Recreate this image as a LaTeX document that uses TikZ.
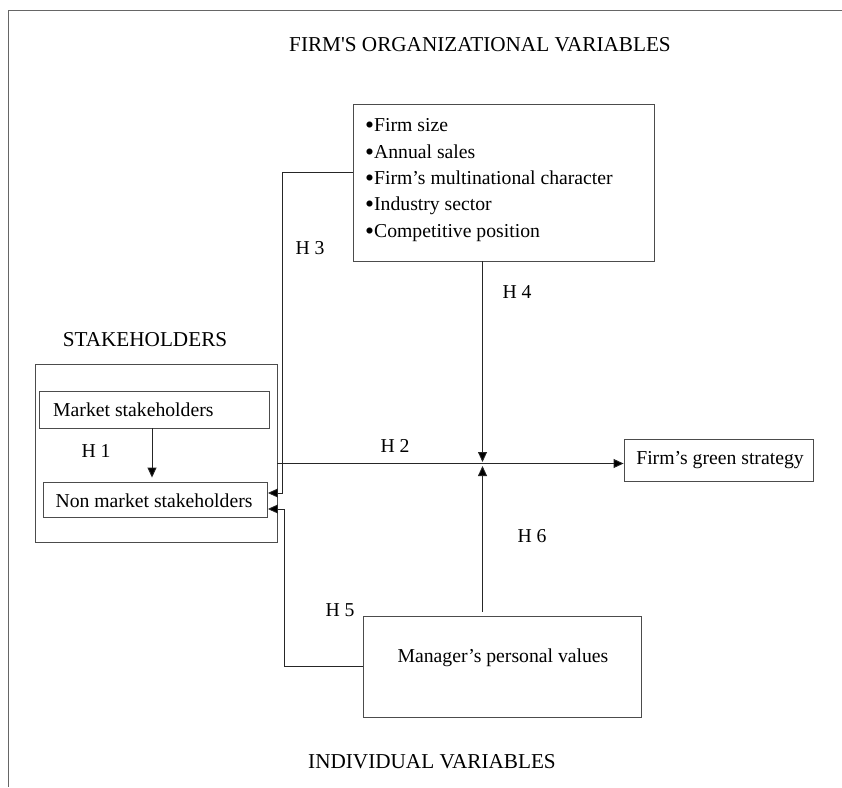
\documentclass[tikz,border=0pt]{standalone}
\usepackage{fontspec}
\setmainfont{Liberation Serif}
\usetikzlibrary{arrows.meta}
\newcommand{\bul}{\raisebox{-2pt}{\scalebox{1.3}{\textbullet}}}
\begin{document}
\begin{tikzpicture}[x=1pt,y=-1pt,
  box/.style={draw=black!70,line width=0.9pt,fill=white,inner sep=0pt},
  lbl/.style={font=\fontsize{19.7}{23}\selectfont,inner sep=0pt},
  hdr/.style={font=\fontsize{21.2}{25}\selectfont,inner sep=0pt},
  con/.style={draw=black!85,line width=0.9pt},
  arr/.style={con,-{Triangle[length=10pt,width=9pt,fill=black]}}]
\useasboundingbox (0,0) rectangle (842,787);
% frame
\draw[black!60,line width=1pt] (842,10) -- (8,10) -- (8,787);
% titles
\node[hdr] (t1) at (480,45) {FIRM\textquotesingle S ORGANIZATIONAL VARIABLES};
\node[hdr] (t2) at (145,340) {STAKEHOLDERS};
\node[hdr] (t3) at (432,762) {INDIVIDUAL VARIABLES};
% boxes
\node[box,minimum width=301pt,minimum height=157pt] (org) at (503.5,182.5) {};
\node[lbl,anchor=west] (o1) at (365,126) {\bul Firm size};
\node[lbl,anchor=west] (o2) at (365,153) {\bul Annual sales};
\node[lbl,anchor=west] (o3) at (365,179) {\bul Firm’s multinational character};
\node[lbl,anchor=west] (o4) at (365,206) {\bul Industry sector};
\node[lbl,anchor=west] (o5) at (365,233) {\bul Competitive position};
\node[box,minimum width=242pt,minimum height=178pt] (out) at (156,453) {};
\node[box,minimum width=230pt,minimum height=37pt] (mk) at (154,409.5) {};
\node[lbl,anchor=west] (mkt) at (53,410) {Market stakeholders};
\node[box,minimum width=224pt,minimum height=35pt] (nm) at (155.5,499.5) {};
\node[lbl] (nmt) at (154,501) {Non market stakeholders};
\node[box,minimum width=189pt,minimum height=42pt] (grn) at (718.5,460) {};
\node[lbl] (grnt) at (720,460) {Firm’s green strategy};
\node[box,minimum width=278pt,minimum height=101pt] (man) at (502,666.5) {};
\node[lbl] (mant) at (503,658) {Manager’s personal values};
% hypothesis labels
\node[lbl] (h1) at (96,451) {H 1};
\node[lbl] (h2) at (395,446) {H 2};
\node[lbl] (h3) at (310,248) {H 3};
\node[lbl] (h4) at (517,292) {H 4};
\node[lbl] (h5) at (340,610) {H 5};
\node[lbl] (h6) at (532,536) {H 6};
% connectors
\coordinate (h2s) at ([yshift=-10.5pt]out.east);
\coordinate (j) at (482.5,463.5);
\coordinate (h1x) at (152,0);
\draw[arr] (mk.south -| h1x) -- ([yshift=4pt]nm.north -| h1x);
\draw[arr] (h2s) -- (h2s -| grn.west);
\draw[arr] ([yshift=10.5pt]org.west) -| ([xshift=14.5pt,yshift=6.5pt]nm.east) -- ([yshift=6.5pt]nm.east);
\draw[arr] (man.west) -| ([xshift=16pt,yshift=-9.5pt]nm.east) -- ([yshift=-9.5pt]nm.east);
\draw[arr] (org.south -| j) -- ([yshift=1.5pt]j);
\draw[arr] ([yshift=4pt]man.north -| j) -- ([yshift=-2.5pt]j);
\end{tikzpicture}
\end{document}
